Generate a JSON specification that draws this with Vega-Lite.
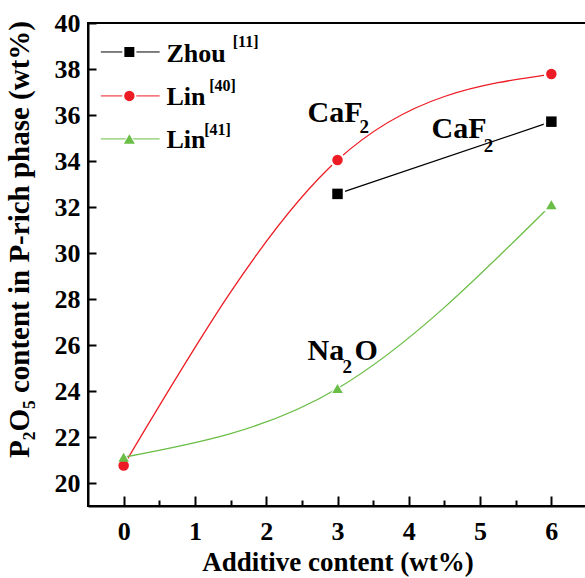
{
  "$schema": "https://vega.github.io/schema/vega-lite/v6.json",
  "autosize": "none",
  "padding": {"left": 88, "top": 23, "right": 0, "bottom": 72},
  "width": 499,
  "height": 483,
  "config": {
    "font": "Liberation Serif",
    "view": {"stroke": "black", "strokeWidth": 2},
    "axis": {"domainColor": "black", "domainWidth": 2, "tickColor": "black", "tickWidth": 2, "grid": false,
      "labelFont": "Liberation Serif", "labelFontWeight": "bold", "labelColor": "black", "labelFontSize": 26,
      "titleFont": "Liberation Serif", "titleFontWeight": "bold", "titleColor": "black", "titleFontSize": 27}
  },
  "data": {"values": [
    {"series": "Zhou", "x": 3, "y": 32.57},
    {"series": "Zhou", "x": 6, "y": 35.71},
    {"series": "Lin40", "x": 0, "y": 20.76},
    {"series": "Lin40", "x": 3, "y": 34.04},
    {"series": "Lin40", "x": 6, "y": 37.78},
    {"series": "Lin41", "x": 0, "y": 21.12},
    {"series": "Lin41", "x": 3, "y": 24.11},
    {"series": "Lin41", "x": 6, "y": 32.1}
  ]},
  "layer": [
    {
      "mark": {"type": "line", "interpolate": "natural", "strokeWidth": 1.3},
      "encoding": {
        "x": {"field": "x", "type": "quantitative", "scale": {"domain": [-0.5, 6.5], "nice": false, "zero": false},
          "axis": {"orient": "bottom", "values": [0, 0.5, 1, 1.5, 2, 2.5, 3, 3.5, 4, 4.5, 5, 5.5, 6],
            "labelExpr": "datum.value % 1 === 0 ? format(datum.value, 'd') : ''",
            "tickSize": {"condition": {"test": "datum.value % 1 !== 0", "value": -6}, "value": -10},
            "labelPadding": 22, "title": "Additive content (wt%)", "titleY": 64, "titleBaseline": "alphabetic"}},
        "y": {"field": "y", "type": "quantitative", "scale": {"domain": [19, 40], "nice": false, "zero": false},
          "axis": {"values": [20, 21, 22, 23, 24, 25, 26, 27, 28, 29, 30, 31, 32, 33, 34, 35, 36, 37, 38, 39, 40],
            "labelExpr": "datum.value % 2 === 0 ? datum.label : ''",
            "tickSize": -8, "labelPadding": 16,
            "title": "P₂O₅ content in P-rich phase (wt%)", "titleFontSize": 29, "titleX": -54, "titleY": 216, "titleBaseline": "bottom"}},
        "color": {"field": "series", "type": "nominal", "scale": {"domain": ["Zhou", "Lin40", "Lin41"], "range": ["#000000", "#ed1c24", "#6abd45"]}, "legend": null}
      }
    },
    {
      "layer": [
        {
          "mark": {"type": "point", "filled": true, "size": 230, "color": "white", "opacity": 1},
          "encoding": {
            "x": {"field": "x", "type": "quantitative"},
            "y": {"field": "y", "type": "quantitative"},
            "shape": {"field": "series", "type": "nominal", "scale": {"domain": ["Zhou", "Lin40", "Lin41"], "range": ["square", "circle", "triangle-up"]}, "legend": null}
          }
        },
        {
          "mark": {"type": "point", "filled": true, "size": 110, "opacity": 1},
          "encoding": {
            "x": {"field": "x", "type": "quantitative"},
            "y": {"field": "y", "type": "quantitative"},
            "shape": {"field": "series", "type": "nominal", "legend": null},
            "color": {"field": "series", "type": "nominal", "legend": null}
          }
        },
        {
          "data": {"values": [{"a": "CaF", "b": "2", "c": "Na", "d": "O", "z": "Zhou", "zs": "[11]", "l": "Lin", "l40": "[40]", "l41": "[41]"}]},
          "layer": [
            {"mark": {"type": "rule", "color": "black", "strokeWidth": 1}, "encoding": {"x": {"datum": -0.32}, "x2": {"datum": 0.505}, "y": {"datum": 38.74}}},
            {"mark": {"type": "point", "shape": "square", "filled": true, "size": 200, "color": "white", "opacity": 1}, "encoding": {"x": {"datum": 0.08}, "y": {"datum": 38.74}}},
            {"mark": {"type": "point", "shape": "square", "filled": true, "size": 100, "color": "black", "opacity": 1}, "encoding": {"x": {"datum": 0.08}, "y": {"datum": 38.74}}},
            {"mark": {"type": "text", "align": "left", "baseline": "alphabetic", "fontSize": 26, "fontWeight": "bold", "color": "black"}, "encoding": {"x": {"datum": 0.6}, "y": {"datum": 38.3}, "text": {"field": "z"}}},
            {"mark": {"type": "text", "align": "left", "baseline": "alphabetic", "fontSize": 16, "fontWeight": "bold", "color": "black"}, "encoding": {"x": {"datum": 1.53}, "y": {"datum": 38.96}, "text": {"field": "zs"}}},

            {"mark": {"type": "rule", "color": "#ed1c24", "strokeWidth": 1}, "encoding": {"x": {"datum": -0.32}, "x2": {"datum": 0.505}, "y": {"datum": 36.83}}},
            {"mark": {"type": "point", "shape": "circle", "filled": true, "size": 200, "color": "white", "opacity": 1}, "encoding": {"x": {"datum": 0.08}, "y": {"datum": 36.83}}},
            {"mark": {"type": "point", "shape": "circle", "filled": true, "size": 110, "color": "#ed1c24", "opacity": 1}, "encoding": {"x": {"datum": 0.08}, "y": {"datum": 36.83}}},
            {"mark": {"type": "text", "align": "left", "baseline": "alphabetic", "fontSize": 26, "fontWeight": "bold", "color": "black"}, "encoding": {"x": {"datum": 0.6}, "y": {"datum": 36.43}, "text": {"field": "l"}}},
            {"mark": {"type": "text", "align": "left", "baseline": "alphabetic", "fontSize": 16, "fontWeight": "bold", "color": "black"}, "encoding": {"x": {"datum": 1.2}, "y": {"datum": 37.04}, "text": {"field": "l40"}}},

            {"mark": {"type": "rule", "color": "#6abd45", "strokeWidth": 1}, "encoding": {"x": {"datum": -0.32}, "x2": {"datum": 0.505}, "y": {"datum": 34.96}}},
            {"mark": {"type": "point", "shape": "triangle-up", "filled": true, "size": 220, "color": "white", "opacity": 1}, "encoding": {"x": {"datum": 0.08}, "y": {"datum": 34.96}}},
            {"mark": {"type": "point", "shape": "triangle-up", "filled": true, "size": 120, "color": "#6abd45", "opacity": 1}, "encoding": {"x": {"datum": 0.08}, "y": {"datum": 34.96}}},
            {"mark": {"type": "text", "align": "left", "baseline": "alphabetic", "fontSize": 26, "fontWeight": "bold", "color": "black"}, "encoding": {"x": {"datum": 0.6}, "y": {"datum": 34.57}, "text": {"field": "l"}}},
            {"mark": {"type": "text", "align": "left", "baseline": "alphabetic", "fontSize": 16, "fontWeight": "bold", "color": "black"}, "encoding": {"x": {"datum": 1.13}, "y": {"datum": 35.13}, "text": {"field": "l41"}}},

            {"mark": {"type": "text", "align": "left", "baseline": "alphabetic", "fontSize": 30, "fontWeight": "bold", "color": "black"}, "encoding": {"x": {"datum": 2.58}, "y": {"datum": 35.7}, "text": {"field": "a"}}},
            {"mark": {"type": "text", "align": "left", "baseline": "alphabetic", "fontSize": 19, "fontWeight": "bold", "color": "black"}, "encoding": {"x": {"datum": 3.31}, "y": {"datum": 35.22}, "text": {"field": "b"}}},
            {"mark": {"type": "text", "align": "left", "baseline": "alphabetic", "fontSize": 30, "fontWeight": "bold", "color": "black"}, "encoding": {"x": {"datum": 4.32}, "y": {"datum": 35.0}, "text": {"field": "a"}}},
            {"mark": {"type": "text", "align": "left", "baseline": "alphabetic", "fontSize": 19, "fontWeight": "bold", "color": "black"}, "encoding": {"x": {"datum": 5.05}, "y": {"datum": 34.39}, "text": {"field": "b"}}},
            {"mark": {"type": "text", "align": "left", "baseline": "alphabetic", "fontSize": 30, "fontWeight": "bold", "color": "black"}, "encoding": {"x": {"datum": 2.58}, "y": {"datum": 25.35}, "text": {"field": "c"}}},
            {"mark": {"type": "text", "align": "left", "baseline": "alphabetic", "fontSize": 19, "fontWeight": "bold", "color": "black"}, "encoding": {"x": {"datum": 3.07}, "y": {"datum": 24.78}, "text": {"field": "b"}}},
            {"mark": {"type": "text", "align": "left", "baseline": "alphabetic", "fontSize": 30, "fontWeight": "bold", "color": "black"}, "encoding": {"x": {"datum": 3.24}, "y": {"datum": 25.35}, "text": {"field": "d"}}}
          ]
        }
      ]
    }
  ]
}
